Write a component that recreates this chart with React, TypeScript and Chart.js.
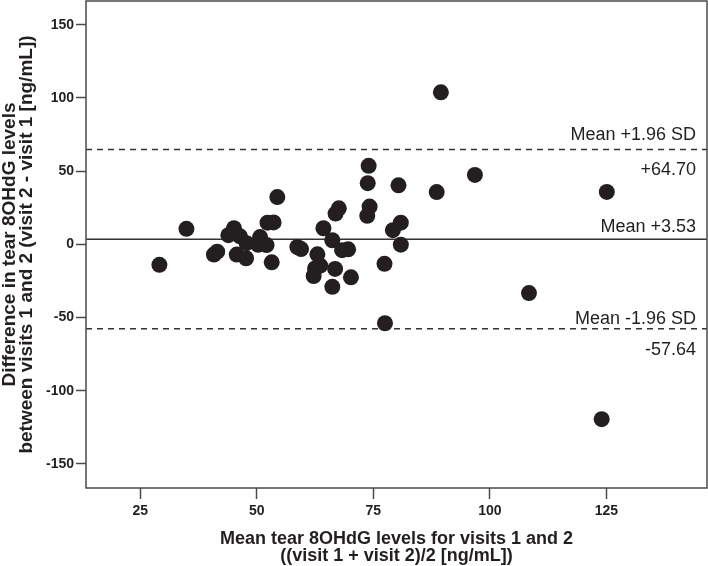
import React, { useEffect, useRef } from "react";
import { Chart, registerables } from "chart.js";

Chart.register(...registerables);

// Bland–Altman data: mean of visits (x) vs difference visit2 - visit1 (y)
const meanValues = [
  29.1, 34.9, 40.8, 41.5, 43.9, 45.1, 46.4, 47.8, 45.7, 47.7,
  50.7, 50.3, 52.1, 53.2, 52.3, 53.6, 54.4, 58.7, 59.5, 63.0,
  62.2, 63.6, 62.5, 66.8, 66.2, 64.3, 66.2, 66.9, 67.6, 68.3,
  69.6, 70.2, 74.0, 73.8, 74.2, 73.7, 77.4, 77.5, 79.2, 80.9,
  80.4, 80.9, 88.6, 89.5, 96.8, 108.4, 124.0, 125.1,
];
const diffValues = [
  -14.0, 10.6, -7.0, -5.0, 6.3, 11.0, 5.5, 0.8, -7.0, -9.5,
  5.0, -0.3, -0.5, -12.3, 14.8, 15.0, 32.3, -1.8, -3.2, -6.8,
  -21.6, -14.5, -16.5, -16.8, -29.0, 11.0, 2.8, 21.0, 24.6, -4.0,
  -3.4, -22.5, 53.6, 41.8, 25.8, 19.5, -13.3, -53.9, 9.7, 14.8,
  40.3, -0.2, 35.7, 103.8, 47.4, -33.3, -119.4, 35.8,
];

const xTicks = [25, 50, 75, 100, 125];
const yTicks = [150, 100, 50, 0, -50, -100, -150];
const xMin = 13.35;
const xMax = 146.6;
const yMin = -166.4;
const yMax = 166.2;

const meanDiff = 3.53;
const upperLoA = 64.7;
const lowerLoA = -57.64;

const xTitle = [
  "Mean tear 8OHdG levels for visits 1 and 2",
  "((visit 1 + visit 2)/2 [ng/mL])",
];
const yTitle = [
  "Difference in tear 8OHdG levels",
  "between visits 1 and 2 (visit 2 - visit 1 [ng/mL])",
];

const INK = "#231f20";
const AXIS = "#4a4a4a";
const FONT = "'Liberation Sans', Arial, Helvetica, sans-serif";

const fmt = (v: number) => (v >= 0 ? "+" : "") + v.toFixed(2);

const annotations = [
  { text: "Mean +1.96 SD", value: upperLoA, dy: -10 },
  { text: fmt(upperLoA), value: upperLoA, dy: 25 },
  { text: "Mean " + fmt(meanDiff), value: meanDiff, dy: -7 },
  { text: "Mean -1.96 SD", value: lowerLoA, dy: -5 },
  { text: fmt(lowerLoA), value: lowerLoA, dy: 26 },
];

const decorPlugin = {
  id: "decor",
  afterDatasetsDraw(chart: any) {
    const { ctx, chartArea, scales } = chart;
    const y = scales.y;
    ctx.save();
    ctx.strokeStyle = AXIS;
    ctx.lineWidth = 1.5;
    ctx.strokeRect(chartArea.left, chartArea.top, chartArea.right - chartArea.left, chartArea.bottom - chartArea.top);
    ctx.fillStyle = INK;
    ctx.font = `18px ${FONT}`;
    ctx.textAlign = "right";
    ctx.textBaseline = "alphabetic";
    annotations.forEach((a) => {
      ctx.fillText(a.text, chartArea.right - 11, y.getPixelForValue(a.value) + a.dy);
    });
    ctx.restore();
  },
  afterDraw(chart: any) {
    const { ctx, chartArea } = chart;
    ctx.save();
    ctx.fillStyle = INK;
    ctx.font = `bold 18px ${FONT}`;
    ctx.textAlign = "center";
    ctx.textBaseline = "alphabetic";
    const cx = (chartArea.left + chartArea.right) / 2;
    ctx.fillText(xTitle[0], cx, 544);
    ctx.fillText(xTitle[1], cx, 561);
    const cy = (chartArea.top + chartArea.bottom) / 2;
    ctx.font = `bold 19px ${FONT}`;
    [15, 32].forEach((bx, i) => {
      ctx.save();
      ctx.translate(bx, cy);
      ctx.rotate(-Math.PI / 2);
      ctx.fillText(yTitle[i], 0, 0);
      ctx.restore();
    });
    ctx.restore();
  },
};

const zeroPad = (scale: any) => {
  scale.paddingTop = 0;
  scale.paddingBottom = 0;
  scale.paddingLeft = 0;
  scale.paddingRight = 0;
};

export default function App() {
  const canvasRef = useRef<HTMLCanvasElement | null>(null);

  useEffect(() => {
    document.body.style.margin = "0";
    const canvas = canvasRef.current;
    if (!canvas) return;
    const points = meanValues.map((x, i) => ({ x, y: diffValues[i] }));
    const hLine = (v: number) => [
      { x: xMin, y: v },
      { x: xMax, y: v },
    ];
    const lineStyle = {
      type: "line" as const,
      borderColor: "#333333",
      borderWidth: 1.5,
      pointRadius: 0,
      fill: false,
      order: 2,
    };
    const chart = new Chart(canvas, {
      type: "scatter",
      data: {
        datasets: [
          {
            label: "Differences",
            data: points,
            backgroundColor: INK,
            borderColor: INK,
            pointRadius: 8,
            pointHoverRadius: 8,
            borderWidth: 0,
            order: 1,
          },
          { ...lineStyle, label: "Mean", data: hLine(meanDiff) },
          { ...lineStyle, label: "Upper", data: hLine(upperLoA), borderDash: [6, 5] },
          { ...lineStyle, label: "Lower", data: hLine(lowerLoA), borderDash: [6, 5] },
        ] as any,
      },
      options: {
        animation: false,
        responsive: false,
        maintainAspectRatio: false,
        layout: { autoPadding: false, padding: { top: 1, right: 1, left: 0, bottom: 0 } },
        plugins: {
          legend: { display: false },
          tooltip: { enabled: false },
        },
        scales: {
          x: {
            type: "linear",
            min: xMin,
            max: xMax,
            afterBuildTicks: (scale: any) => {
              scale.ticks = xTicks.map((v) => ({ value: v }));
            },
            afterFit: (scale: any) => {
              scale.height = 78;
              zeroPad(scale);
            },
            border: { display: false },
            grid: {
              drawOnChartArea: false,
              drawTicks: true,
              tickLength: 11,
              tickColor: AXIS,
              tickWidth: 1.5,
            },
            ticks: {
              color: INK,
              font: { family: FONT, size: 14, weight: "bold" },
              padding: 4,
              maxRotation: 0,
              autoSkip: false,
            },
          },
          y: {
            type: "linear",
            min: yMin,
            max: yMax,
            afterBuildTicks: (scale: any) => {
              scale.ticks = yTicks.map((v) => ({ value: v }));
            },
            afterFit: (scale: any) => {
              scale.width = 86;
              zeroPad(scale);
            },
            border: { display: false },
            grid: {
              drawOnChartArea: false,
              drawTicks: true,
              tickLength: 10,
              tickColor: AXIS,
              tickWidth: 1.5,
            },
            ticks: {
              color: INK,
              font: { family: FONT, size: 14, weight: "bold" },
              padding: 2,
              autoSkip: false,
            },
          },
        },
      } as any,
      plugins: [decorPlugin],
    });
    return () => chart.destroy();
  }, []);

  return (
    <div style={{ position: "absolute", left: 0, top: 0, width: 708, height: 566 }}>
      <canvas ref={canvasRef} width={708} height={566} style={{ width: 708, height: 566 }} />
    </div>
  );
}
